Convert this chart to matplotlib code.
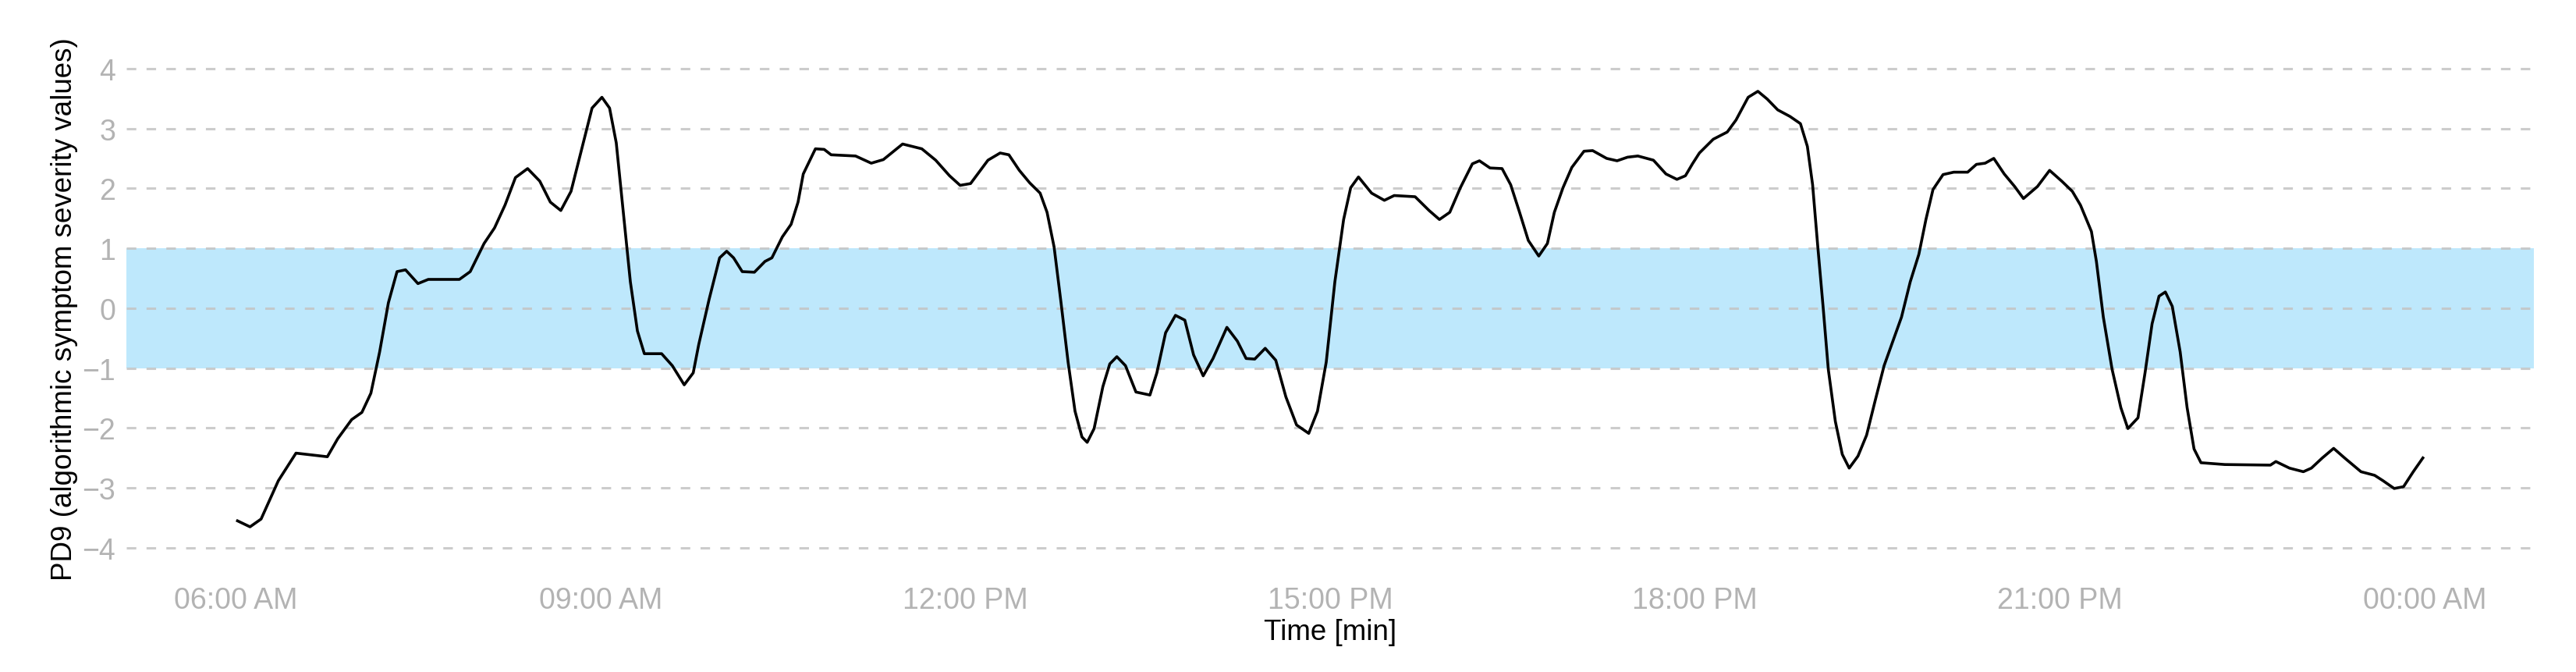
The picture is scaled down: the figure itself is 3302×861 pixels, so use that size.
import numpy as np
import matplotlib
matplotlib.use("Agg")
import matplotlib.pyplot as plt

# PD9 severity trace (time in hours of day, 24 = midnight)
hours = [6.013, 6.116, 6.207, 6.349, 6.494, 6.752, 6.837, 6.952, 7.036, 7.110,
         7.182, 7.254, 7.325, 7.395, 7.497, 7.582, 7.838, 7.927, 8.041, 8.127,
         8.213, 8.299, 8.399, 8.499, 8.586, 8.672, 8.756, 8.843, 8.929, 9.010,
         9.073, 9.128, 9.186, 9.244, 9.302, 9.359, 9.501, 9.589, 9.687, 9.761,
         9.806, 9.892, 9.978, 10.036, 10.093, 10.164, 10.264, 10.351, 10.408, 10.494,
         10.566, 10.623, 10.666, 10.766, 10.838, 10.895, 11.096, 11.225, 11.325, 11.483,
         11.641, 11.755, 11.869, 11.956, 12.042, 12.185, 12.285, 12.357, 12.443, 12.529,
         12.614, 12.671, 12.729, 12.786, 12.844, 12.901, 12.958, 13.001, 13.058, 13.130,
         13.187, 13.245, 13.316, 13.402, 13.517, 13.574, 13.646, 13.727, 13.804, 13.876,
         13.955, 14.036, 14.150, 14.236, 14.308, 14.379, 14.465, 14.552, 14.635, 14.723,
         14.823, 14.895, 14.967, 15.038, 15.110, 15.168, 15.232, 15.340, 15.445, 15.526,
         15.698, 15.813, 15.898, 15.983, 16.070, 16.169, 16.227, 16.314, 16.413, 16.484,
         16.557, 16.629, 16.715, 16.786, 16.843, 16.914, 16.987, 17.087, 17.158, 17.273,
         17.359, 17.445, 17.530, 17.658, 17.761, 17.851, 17.921, 17.979, 18.036, 18.150,
         18.265, 18.337, 18.437, 18.517, 18.594, 18.680, 18.781, 18.867, 18.924, 18.967,
         19.010, 19.053, 19.096, 19.154, 19.211, 19.268, 19.340, 19.411, 19.482, 19.555,
         19.627, 19.698, 19.770, 19.841, 19.899, 19.957, 20.040, 20.128, 20.242, 20.314,
         20.386, 20.457, 20.543, 20.629, 20.701, 20.816, 20.916, 21.016, 21.103, 21.170,
         21.260, 21.301, 21.358, 21.430, 21.502, 21.560, 21.643, 21.701, 21.759, 21.816,
         21.868, 21.925, 21.990, 22.047, 22.104, 22.161, 22.357, 22.732, 22.777, 22.889,
         23.003, 23.069, 23.159, 23.252, 23.342, 23.477, 23.589, 23.658, 23.750, 23.827,
         23.907, 23.986]
pd9 = [-3.55, -3.65, -3.52, -2.88, -2.42, -2.48, -2.18, -1.86, -1.74, -1.42,
       -0.73, 0.09, 0.61, 0.64, 0.41, 0.48, 0.48, 0.61, 1.08, 1.34,
       1.72, 2.18, 2.33, 2.12, 1.77, 1.63, 1.95, 2.65, 3.34, 3.52,
       3.34, 2.76, 1.60, 0.44, -0.38, -0.76, -0.76, -0.96, -1.28, -1.08,
       -0.61, 0.15, 0.84, 0.95, 0.84, 0.61, 0.60, 0.78, 0.84, 1.19,
       1.40, 1.77, 2.24, 2.66, 2.65, 2.56, 2.54, 2.42, 2.48, 2.74,
       2.66, 2.47, 2.21, 2.05, 2.08, 2.47, 2.59, 2.56, 2.30, 2.09,
       1.92, 1.60, 1.02, 0.09, -0.90, -1.72, -2.15, -2.24, -2.01, -1.31,
       -0.93, -0.81, -0.96, -1.40, -1.45, -1.08, -0.41, -0.12, -0.20, -0.78,
       -1.13, -0.84, -0.32, -0.55, -0.84, -0.85, -0.67, -0.87, -1.48, -1.95,
       -2.09, -1.72, -0.90, 0.44, 1.48, 2.01, 2.19, 1.92, 1.80, 1.88,
       1.86, 1.63, 1.48, 1.60, 2.01, 2.41, 2.46, 2.34, 2.33, 2.06,
       1.60, 1.13, 0.87, 1.08, 1.60, 2.01, 2.35, 2.62, 2.63, 2.50,
       2.46, 2.52, 2.54, 2.47, 2.24, 2.15, 2.21, 2.41, 2.59, 2.82,
       2.94, 3.14, 3.52, 3.62, 3.49, 3.31, 3.20, 3.08, 2.70, 2.06,
       1.02, 0.03, -1.02, -1.89, -2.44, -2.67, -2.47, -2.12, -1.54, -0.96,
       -0.55, -0.15, 0.44, 0.90, 1.48, 1.98, 2.23, 2.27, 2.27, 2.40,
       2.42, 2.50, 2.24, 2.03, 1.83, 2.03, 2.30, 2.12, 1.95, 1.72,
       1.28, 0.78, -0.15, -1.02, -1.66, -2.01, -1.83, -1.08, -0.26, 0.20,
       0.27, 0.03, -0.73, -1.66, -2.35, -2.58, -2.61, -2.62, -2.56, -2.67,
       -2.73, -2.67, -2.50, -2.34, -2.50, -2.73, -2.79, -2.88, -3.01, -2.98,
       -2.73, -2.50]

# normal range band
band_low, band_high = -1, 1

tick_hours = [6, 9, 12, 15, 18, 21, 24]
tick_labels = ["06:00 AM", "09:00 AM", "12:00 PM", "15:00 PM", "18:00 PM", "21:00 PM", "00:00 AM"]
y_ticks = [-4, -3, -2, -1, 0, 1, 2, 3, 4]

plt.rcParams['font.family'] = ['Liberation Sans', 'DejaVu Sans']

fig = plt.figure(figsize=(33.02, 8.62), dpi=100)
ax = fig.add_axes([0.0491, 0.149, 0.9346, 0.7836])

ax.axhspan(band_low, band_high, color='#BEE8FC', zorder=1, lw=0)
for y in y_ticks:
    ax.axhline(y, color='#c4c4c4', lw=2.2, ls=(0, (4, 4.3)), zorder=2, alpha=0.85)
ax.plot(hours, pd9, color='black', lw=2.6, zorder=3, solid_joinstyle='round')

ax.set_xlim(5.1, 24.9)
ax.set_ylim(-4.4, 4.4)
ax.set_xticks(tick_hours)
ax.set_xticklabels(tick_labels)
ax.set_yticks(y_ticks)
ax.tick_params(length=0, labelsize=27, colors='#b3b3b3')
ax.tick_params(axis='x', pad=13)
ax.tick_params(axis='y', pad=10)
for s in ax.spines.values():
    s.set_visible(False)

ax.set_xlabel('Time [min]', fontsize=26.5, color='black', labelpad=4)
ax.set_ylabel('PD9 (algorithmic symptom severity values)', fontsize=26.5, color='black', labelpad=4)

fig.savefig('out.png', dpi=100)
